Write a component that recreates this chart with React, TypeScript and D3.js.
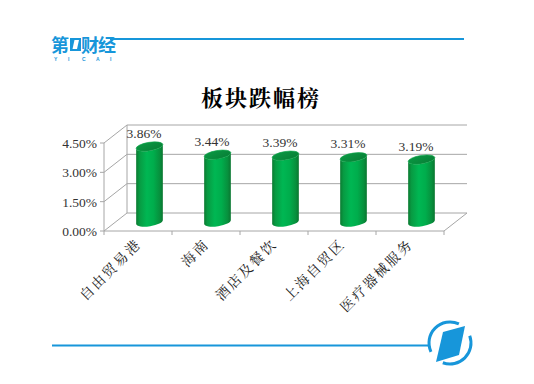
import React from "react";
import * as d3 from "d3";

const categories = ["自由贸易港", "海南", "酒店及餐饮", "上海自贸区", "医疗器械服务"];
const values = [3.86, 3.44, 3.39, 3.31, 3.19];
const yTicks = [0, 1.5, 3.0, 4.5];
const title = "板块跌幅榜";
const logoLetters = ["Y", "I", "C", "A", "I"];

const BLUE = "#1796da";

export default function App() {
  const W = 534, H = 384;
  const x0 = 104, x1 = 444;
  const yZero = 231, yTop = 143;
  const dx = 23, dy = -18;

  const x = d3.scaleBand<string>().domain(categories).range([x0, x1]).paddingInner(0).paddingOuter(0);
  const y = d3.scaleLinear().domain([0, 4.5]).range([yZero, yTop]);

  const bw = x.bandwidth();
  const rx = 13.5, ry = 4.2, rot = -9;
  const rad = (rot * Math.PI) / 180;
  const ex = rx * Math.cos(rad), ey = rx * Math.sin(rad);

  return (
    <svg width={W} height={H} style={{ position: "absolute", left: 0, top: 0, background: "#fff" }}>
      <defs>
        <linearGradient id="cyl" x1="0" x2="1" y1="0" y2="0">
          <stop offset="0%" stopColor="#0b7a31" />
          <stop offset="12%" stopColor="#089a42" />
          <stop offset="40%" stopColor="#00b753" />
          <stop offset="65%" stopColor="#00ad4c" />
          <stop offset="88%" stopColor="#07903d" />
          <stop offset="100%" stopColor="#0a7630" />
        </linearGradient>
        <linearGradient id="cap" x1="0" x2="1" y1="0" y2="1">
          <stop offset="0%" stopColor="#0a9a44" />
          <stop offset="100%" stopColor="#087d35" />
        </linearGradient>
      </defs>

      {/* header */}
      <g fontFamily="'Noto Sans CJK SC', sans-serif" fontWeight="bold" fill={BLUE}>
        <text x={51} y={52} fontSize={18}>第</text>
        <rect x={70} y={38} width={11} height={13} fill={BLUE} />
        <path d="M72.5,49 L74.5,40 L79,40 L77,49 Z" fill="#fff" />
        <text x={81} y={52} fontSize={18} letterSpacing={-1}>财经</text>
      </g>
      <g fontFamily="Arial, sans-serif" fontSize={5} fill={BLUE} fontWeight="bold">
        {logoLetters.map((c, i) => (
          <text key={i} x={54 + i * 14} y={61}>{c}</text>
        ))}
      </g>
      <line x1={110} x2={464} y1={39} y2={39} stroke={BLUE} strokeWidth={2} />

      {/* title */}
      <text x={261} y={106} textAnchor="middle" fontSize={22} fontWeight="bold" letterSpacing={2}
        fontFamily="'Noto Serif CJK SC', 'Noto Sans CJK SC', serif" fill="#000">{title}</text>

      {/* walls, grid and axes */}
      <g stroke="#a6a6a6" strokeWidth={1} fill="none">
        {yTicks.map((t) => (
          <g key={t}>
            <line x1={x0 + dx} x2={x1 + dx} y1={y(t) + dy} y2={y(t) + dy} />
            <line x1={x0} x2={x0 + dx} y1={y(t)} y2={y(t) + dy} />
          </g>
        ))}
        <line x1={x0 + dx} x2={x0 + dx} y1={y(4.5) + dy} y2={y(0) + dy} />
        <line x1={x1} x2={x1 + dx} y1={y(0)} y2={y(0) + dy} />
        <line x1={x0} x2={x0} y1={y(4.5)} y2={y(0)} />
        <line x1={x0} x2={x1} y1={y(0)} y2={y(0)} />
        {yTicks.map((t) => (
          <line key={"t" + t} x1={x0 - 4} x2={x0} y1={y(t)} y2={y(t)} />
        ))}
        {[...categories.map((c) => x(c) as number), x1].map((v, i) => (
          <line key={"c" + i} x1={v} x2={v} y1={y(0)} y2={y(0) + 4} />
        ))}
      </g>

      {/* y labels */}
      <g fontFamily="'Liberation Serif', serif" fontSize={13.5} fill="#333" textAnchor="end">
        {yTicks.map((t) => (
          <text key={t} x={97} y={y(t) + 5}>{t.toFixed(2) + "%"}</text>
        ))}
      </g>

      {/* bars */}
      {categories.map((c, i) => {
        const cx = (x(c) as number) + bw / 2 + dx / 2;
        const by = y(0) + dy / 2;
        const ty = y(values[i]) + dy / 2;
        const body = `M${cx - ex},${ty - ey} L${cx - ex},${by - ey} A${rx},${ry} ${rot} 0 0 ${cx + ex},${by + ey} L${cx + ex},${ty + ey} A${rx},${ry} ${rot} 0 1 ${cx - ex},${ty - ey} Z`;
        return (
          <g key={c}>
            <path d={body} fill="url(#cyl)" />
            <ellipse cx={cx} cy={ty} rx={rx} ry={ry} transform={`rotate(${rot},${cx},${ty})`} fill="url(#cap)" stroke="#0fa64c" strokeWidth={0.6} />
            <text x={cx - 5.5} y={ty - 9} textAnchor="middle" fontSize={13.5}
              fontFamily="'Liberation Serif', serif" fill="#333">{values[i].toFixed(2) + "%"}</text>
          </g>
        );
      })}

      {/* category labels */}
      <g fontFamily="'Noto Serif CJK SC', 'Noto Sans CJK SC', serif" fontSize={14} fill="#222">
        {categories.map((c) => {
          const cx = (x(c) as number) + bw / 2 + 4;
          const cy = 245;
          return (
            <text key={c} x={cx} y={cy} textAnchor="end" transform={`rotate(-45,${cx},${cy})`} letterSpacing={2}>{c}</text>
          );
        })}
      </g>

      {/* footer */}
      <line x1={52} x2={428} y1={345.5} y2={345.5} stroke={BLUE} strokeWidth={2} />
      <path d={d3.arc()({ innerRadius: 19.5, outerRadius: 22.5, startAngle: (70 * Math.PI) / 180, endAngle: (200 * Math.PI) / 180 }) || ""}
        transform="translate(450,343)" fill={BLUE} />
      <path d={d3.arc()({ innerRadius: 19.5, outerRadius: 22.5, startAngle: (245 * Math.PI) / 180, endAngle: (385 * Math.PI) / 180 }) || ""}
        transform="translate(450,343)" fill={BLUE} />
      <path d="M443,332 L465,326 L459,355 L436,362 Z" fill={BLUE} />
    </svg>
  );
}
